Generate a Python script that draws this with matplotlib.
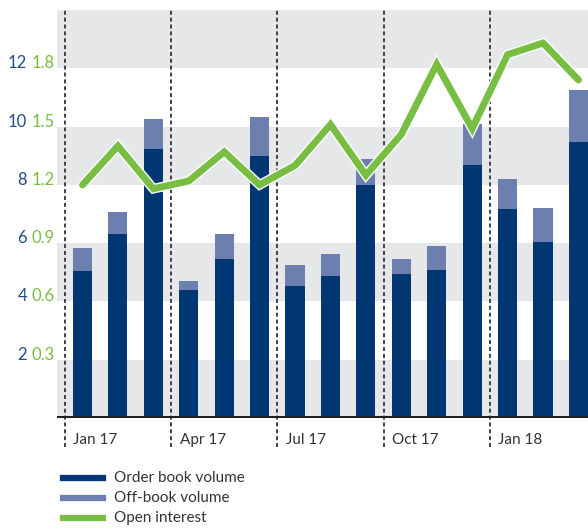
import matplotlib.pyplot as plt
import matplotlib.patheffects as pe
from matplotlib.lines import Line2D

plt.rcParams["font.family"] = ["Lato", "DejaVu Sans"]

months = ["Jan 17", "Feb 17", "Mar 17", "Apr 17", "May 17", "Jun 17", "Jul 17", "Aug 17",
          "Sep 17", "Oct 17", "Nov 17", "Dec 17", "Jan 18", "Feb 18", "Mar 18"]
order_book = [5.04, 6.31, 9.22, 4.39, 5.45, 9.0, 4.53, 4.87, 7.99, 4.94, 5.07, 8.67, 7.16, 6.03, 9.46]
total_volume = [5.83, 7.06, 10.25, 4.70, 6.31, 10.32, 5.25, 5.62, 8.88, 5.45, 5.90, 10.1, 8.19, 7.2, 11.24]
open_interest = [1.20, 1.40, 1.18, 1.22, 1.37, 1.20, 1.30, 1.51, 1.25, 1.46, 1.82, 1.49, 1.87, 1.93, 1.74]
off_book = [t - o for t, o in zip(total_volume, order_book)]

left_ticks = [2, 4, 6, 8, 10, 12]
right_ticks = ["0.3", "0.6", "0.9", "1.2", "1.5", "1.8"]

navy = "#003773"
slate = "#6d7fae"
green = "#78be43"
blue_txt = "#1f4e8c"
band = "#e6e7e9"

fig = plt.figure(figsize=(5.88, 5.28), dpi=100)
ax = fig.add_axes([57 / 588, 110 / 528, 531 / 588, 408 / 528])
x = list(range(len(months)))

for lo in (0, 4, 8, 12):
    ax.axhspan(lo, lo + 2, color=band, lw=0, zorder=0)

ax.bar(x, order_book, width=0.54, color=navy, zorder=2)
ax.bar(x, off_book, width=0.54, bottom=order_book, color=slate, zorder=2)

for q in (0, 3, 6, 9, 12):
    ax.axvline(q - 0.5, ymin=-0.071, ymax=1, color="#333333", lw=1.3,
               linestyle=(0, (2.2, 1.6)), clip_on=False, zorder=3)
    ax.text(q - 0.5 + 0.24, -0.054, months[q], transform=ax.get_xaxis_transform(),
            ha="left", va="center", fontsize=11, color="#333333")

ax.axhline(0, color="#231f20", lw=2.9, zorder=4)

for v, r in zip(left_ticks, right_ticks):
    ax.text(-0.0565, v, str(v), transform=ax.get_yaxis_transform(), ha="right",
            va="baseline", fontsize=12, color=blue_txt)
    ax.text(-0.0038, v, r, transform=ax.get_yaxis_transform(), ha="right",
            va="baseline", fontsize=12, color=green)

ax.set_xlim(-0.72, 14.27)
ax.set_ylim(0, 14)
ax.set_xticks([])
ax.set_yticks([])
for s in ax.spines.values():
    s.set_visible(False)

ax2 = ax.twinx()
ax2.plot(x, open_interest, color=green, lw=5, solid_capstyle="round", solid_joinstyle="miter",
         path_effects=[pe.Stroke(linewidth=7, foreground="white"), pe.Normal()], zorder=5)
ax2.set_ylim(0, 2.1)
ax2.set_yticks([])
for s in ax2.spines.values():
    s.set_visible(False)

legend_items = [("Order book volume", navy), ("Off-book volume", slate), ("Open interest", green)]
for i, (lab, col) in enumerate(legend_items):
    yy = 1 - (478 + 20 * i) / 528
    fig.add_artist(Line2D([63 / 588, 103 / 588], [yy, yy], color=col, lw=4.5))
    fig.text(114 / 588, yy, lab, ha="left", va="center", fontsize=11, color="#333333")

fig.savefig("out.png", dpi=100)
